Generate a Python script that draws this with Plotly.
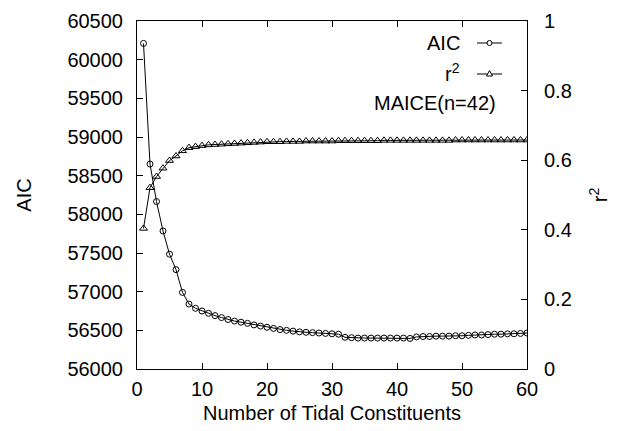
import plotly.graph_objects as go

n_constituents = list(range(1, 61))
aic = [60210, 58650, 58165, 57785, 57485, 57285, 56990, 56840, 56785, 56750,
       56720, 56690, 56665, 56640, 56620, 56605, 56590, 56570, 56555, 56540,
       56525, 56510, 56500, 56490, 56480, 56475, 56470, 56465, 56460, 56455,
       56450, 56410, 56405, 56400, 56400, 56400, 56400, 56400, 56400, 56400,
       56400, 56395, 56415, 56420, 56420, 56425, 56425, 56425, 56430, 56430,
       56435, 56440, 56440, 56445, 56450, 56450, 56455, 56455, 56460, 56465]
r2 = [0.404, 0.521, 0.553, 0.577, 0.599, 0.612, 0.627, 0.636, 0.639, 0.642,
      0.644, 0.645, 0.646, 0.647, 0.648, 0.649, 0.650, 0.651, 0.652, 0.653,
      0.653, 0.653, 0.654, 0.654, 0.654, 0.655, 0.655, 0.655, 0.655, 0.655,
      0.656, 0.656, 0.656, 0.656, 0.656, 0.656, 0.656, 0.657, 0.657, 0.657,
      0.657, 0.657, 0.657, 0.657, 0.657, 0.657, 0.657, 0.657, 0.658, 0.658,
      0.658, 0.658, 0.658, 0.658, 0.658, 0.658, 0.658, 0.658, 0.658, 0.658]

FONT = "Liberation Sans, Arial, sans-serif"
FS = 20
W, H = 628, 431
ML, MR, MT, MB = 137, 101, 21, 62

fig = go.Figure()
fig.add_trace(go.Scatter(
    x=n_constituents, y=aic, mode="lines+markers", name="AIC",
    line=dict(color="black", width=1),
    marker=dict(symbol="circle-open", size=6, color="black", line=dict(width=1)),
))
fig.add_trace(go.Scatter(
    x=n_constituents, y=r2, mode="lines+markers", name="r2", yaxis="y2",
    line=dict(color="black", width=1),
    marker=dict(symbol="triangle-up-open", size=7, color="black", line=dict(width=1)),
))

def px_x(p):
    return (p - ML) / (W - ML - MR)

def px_y(p):
    return 1 - (p - MT) / (H - MT - MB)

# legend-like key drawn with annotations and shapes (paper coords)
anns = [
    dict(text="AIC", x=px_x(462), y=px_y(43)),
    dict(text="r<sup>2</sup>", x=px_x(462), y=px_y(72)),
    dict(text="MAICE(n=42)", x=px_x(498), y=px_y(103)),
]
annotations = []
for a in anns:
    annotations.append(dict(text=a["text"], x=a["x"], y=a["y"], xref="paper", yref="paper",
                            xanchor="right", yanchor="middle", showarrow=False,
                            font=dict(family=FONT, size=FS, color="black")))
shapes = []
for yy in (43, 74):
    shapes.append(dict(type="line", xref="paper", yref="paper",
                       x0=px_x(477), x1=px_x(502), y0=px_y(yy), y1=px_y(yy),
                       line=dict(color="black", width=1)))
shapes.append(dict(type="circle", xref="paper", yref="paper",
                   x0=px_x(487), x1=px_x(492), y0=px_y(45.5), y1=px_y(40.5),
                   line=dict(color="black", width=1), fillcolor="white"))
tx0, ty0 = px_x(486.5), px_y(76)
tx1, ty1 = px_x(492.5), px_y(76)
tx2, ty2 = px_x(489.5), px_y(70.5)
shapes.append(dict(type="path", xref="paper", yref="paper",
                   path=f"M {tx0} {ty0} L {tx1} {ty1} L {tx2} {ty2} Z",
                   line=dict(color="black", width=1), fillcolor="white"))

axis_common = dict(showgrid=False, zeroline=False, showline=True, linecolor="black",
                   linewidth=1, ticks="inside", tickcolor="black", ticklen=6,
                   automargin=False,
                   tickfont=dict(family=FONT, size=FS, color="black"))

fig.update_layout(
    width=W, height=H,
    margin=dict(l=ML, r=MR, t=MT, b=MB),
    paper_bgcolor="white", plot_bgcolor="white",
    showlegend=False,
    xaxis=dict(range=[0, 60], dtick=10, tick0=0, mirror="ticks",
               title=dict(text="Number of Tidal Constituents", standoff=6,
                          font=dict(family=FONT, size=FS, color="black")),
               ticklabelstandoff=2, **axis_common),
    yaxis=dict(range=[56000, 60500], dtick=500, tick0=56000, tickformat="d",
               title=dict(text="AIC", standoff=30,
                          font=dict(family=FONT, size=FS, color="black")),
               ticklabelstandoff=9, **axis_common),
    yaxis2=dict(range=[0, 1], dtick=0.2, tick0=0, overlaying="y", side="right",
                title=dict(text="r<sup>2</sup>", standoff=22,
                           font=dict(family=FONT, size=FS, color="black")),
                ticklabelstandoff=12, **axis_common),
    annotations=annotations,
    shapes=shapes,
)

fig.write_html("out.html")
